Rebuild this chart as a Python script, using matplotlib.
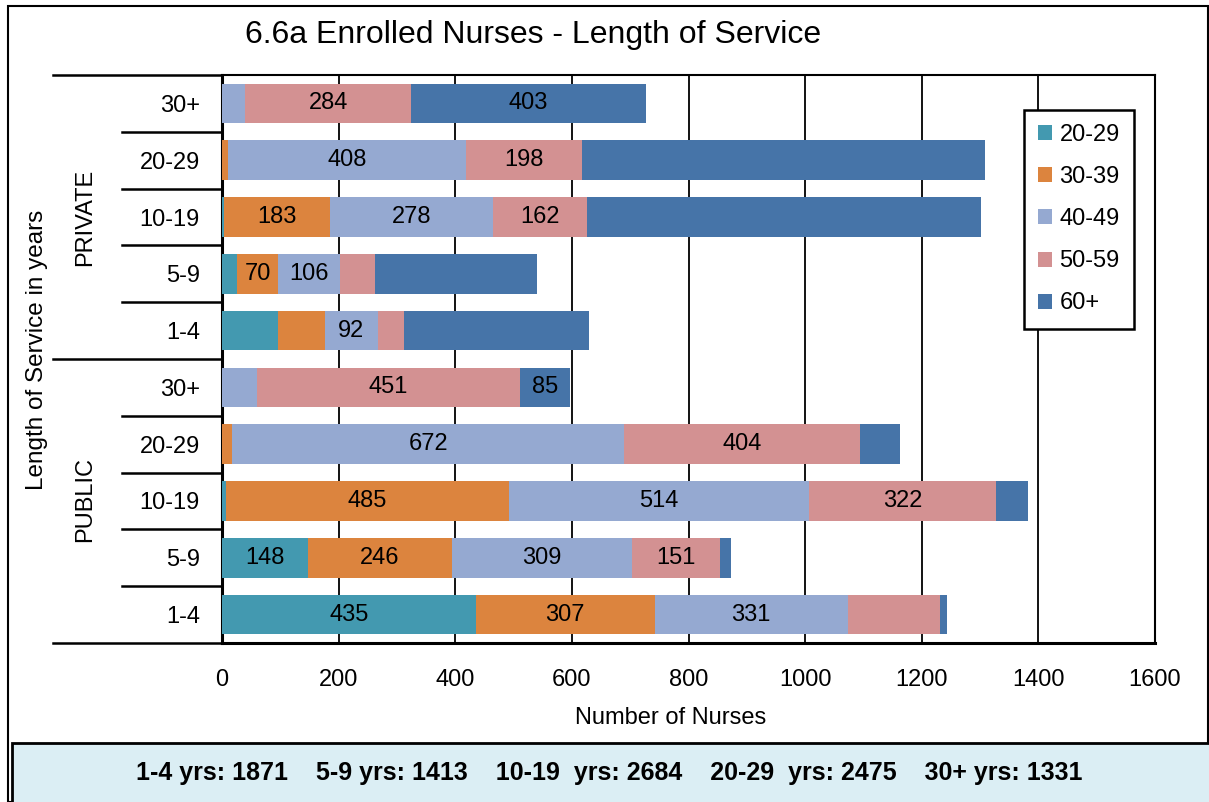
import matplotlib
matplotlib.use('Agg')
import matplotlib.pyplot as plt
import numpy as np
from matplotlib.patches import Rectangle

plt.rcParams['font.family'] = ['Liberation Sans', 'DejaVu Sans']

# Categories, bottom row first (PUBLIC 1-4 ... PRIVATE 30+)
service = ['1-4', '5-9', '10-19', '20-29', '30+']
sectors = ['PUBLIC', 'PRIVATE']
age_groups = ['20-29', '30-39', '40-49', '50-59', '60+']

age_20_29 = [435, 148, 7, 0, 0, 96, 26, 3, 0, 0]
age_30_39 = [307, 246, 485, 18, 0, 80, 70, 183, 11, 0]
age_40_49 = [331, 309, 514, 672, 60, 92, 106, 278, 408, 40]
age_50_59 = [159, 151, 322, 404, 451, 44, 60, 162, 198, 284]
age_60_up = [11, 19, 55, 68, 85, 318, 278, 676, 692, 403]

# which segments carry a value label in the original
show_20_29 = [1, 1, 0, 0, 0, 0, 0, 0, 0, 0]
show_30_39 = [1, 1, 1, 0, 0, 0, 1, 1, 0, 0]
show_40_49 = [1, 1, 1, 1, 0, 1, 1, 1, 1, 0]
show_50_59 = [0, 1, 1, 1, 1, 0, 0, 1, 1, 1]
show_60_up = [0, 0, 0, 0, 1, 0, 0, 0, 0, 1]

totals_text = '1-4 yrs: 1871    5-9 yrs: 1413    10-19  yrs: 2684    20-29  yrs: 2475    30+ yrs: 1331'

colors = ['#4399B0', '#DC843E', '#95A9D1', '#D39192', '#4674A8']

FS = 17

W, H = 1209, 802
fig = plt.figure(figsize=(W / 100, H / 100), dpi=100)
ax = fig.add_axes([222 / W, 1 - 643 / H, (1155 - 222) / W, (643 - 75) / H])

y = np.arange(len(service) * len(sectors))
left = np.zeros(len(y))
series = [age_20_29, age_30_39, age_40_49, age_50_59, age_60_up]
shows = [show_20_29, show_30_39, show_40_49, show_50_59, show_60_up]
for name, vals, show, col in zip(age_groups, series, shows, colors):
    vals = np.array(vals)
    bars = ax.barh(y, vals, left=left, height=0.7, color=col, label=name, zorder=3)
    labs = [str(v) if s else '' for v, s in zip(vals, show)]
    ax.bar_label(bars, labels=labs, label_type='center', fontsize=FS, zorder=4)
    left += vals

ax.set_xlim(0, 1600)
ax.set_ylim(-0.5, 9.5)
ax.set_xticks(range(0, 1601, 200))
ax.set_yticks(y)
ax.set_yticklabels(service * 2)
ax.tick_params(axis='x', length=0, pad=19, labelsize=FS)
ax.tick_params(axis='y', length=0, pad=16, labelsize=FS)
ax.set_axisbelow(True)
ax.grid(axis='x', color='black', linewidth=1.3)
for side in ['top', 'right']:
    ax.spines[side].set_linewidth(1.5)
for side in ['left', 'bottom']:
    ax.spines[side].set_linewidth(2.2)

# hierarchical category axis lines
tr = ax.get_yaxis_transform()
inner_x = (122 - 222) / (1155 - 222)
outer_x = (53 - 222) / (1155 - 222)
for b in np.arange(-0.5, 10, 1.0):
    x0 = outer_x if b in (-0.5, 4.5, 9.5) else inner_x
    ax.plot([x0, 0], [b, b], color='black', lw=1.8, transform=tr, clip_on=False)

fig.text(85 / W, 1 - 217 / H, 'PRIVATE', rotation=90, ha='center', va='center', fontsize=FS)
fig.text(85 / W, 1 - 500 / H, 'PUBLIC', rotation=90, ha='center', va='center', fontsize=FS)
fig.text(37 / W, 1 - 350 / H, 'Length of Service in years', rotation=90, ha='center', va='center', fontsize=FS + 0.5)
fig.text(671 / W, 1 - 718 / H, 'Number of Nurses', ha='center', va='center', fontsize=FS)
fig.text(533 / W, 1 - 35 / H, '6.6a Enrolled Nurses - Length of Service', ha='center', va='center', fontsize=23)

leg = ax.legend(loc='upper left', bbox_to_anchor=(1024 / W, 1 - 110 / H), bbox_transform=fig.transFigure,
                fontsize=FS, fancybox=False, edgecolor='black', framealpha=1, borderpad=0.6,
                handlelength=0.6, handleheight=0.6, handletextpad=0.3, labelspacing=0.85, borderaxespad=0)
leg.get_frame().set_linewidth(1.8)

# outer frame and the totals box
fig.patches.append(Rectangle((8 / W, 0), 1200 / W, 1 - 6 / H, transform=fig.transFigure,
                             fill=False, edgecolor='black', lw=1.5))
fig.patches.append(Rectangle((12 / W, -0.01), 1.0, (802 - 743) / H + 0.01, transform=fig.transFigure,
                             facecolor='#DBEEF4', edgecolor='black', lw=2))
fig.text(609 / W, 1 - 773 / H, totals_text, ha='center', va='center', fontsize=18, fontweight='bold')

fig.savefig('out.png', dpi=100)
